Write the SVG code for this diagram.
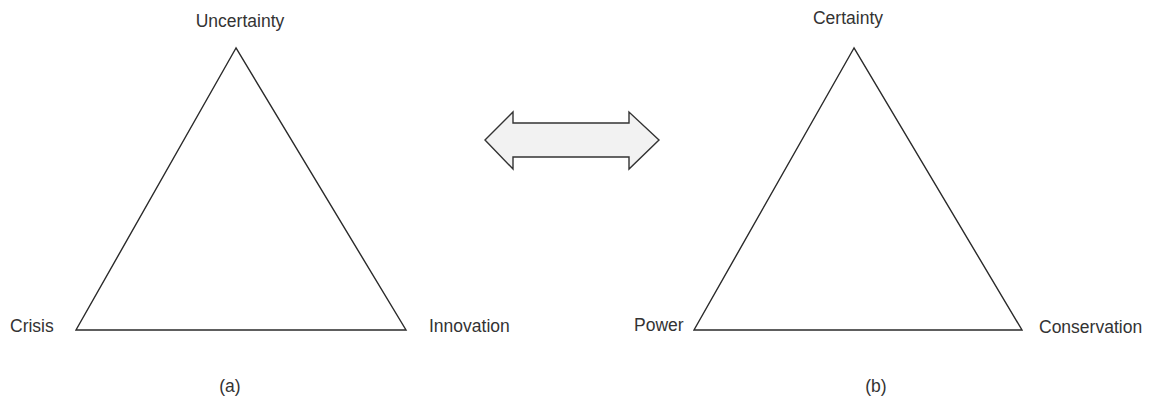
<svg xmlns="http://www.w3.org/2000/svg" width="1154" height="402" viewBox="0 0 1154 402">
<style>
text{font-family:"Liberation Sans",Arial,sans-serif;font-size:17.5px;fill:#333}
.tri{fill:none;stroke:#2a2a2a;stroke-width:1.4;stroke-linejoin:miter}
.arr{fill:#f2f2f2;stroke:#333;stroke-width:1.4}
</style>
<rect width="1154" height="402" fill="#fff"/>
<g id="triangle-a">
<polygon class="tri" points="236,48 76,330 406,330"/>
<text x="240" y="27" text-anchor="middle">Uncertainty</text>
<text x="10" y="332">Crisis</text>
<text x="429" y="332">Innovation</text>
<text x="230" y="392" text-anchor="middle">(a)</text>
</g>
<g id="triangle-b">
<polygon class="tri" points="854,48 694,330 1022,330"/>
<text x="848" y="24" text-anchor="middle">Certainty</text>
<text x="634" y="331">Power</text>
<text x="1039" y="333">Conservation</text>
<text x="876" y="392" text-anchor="middle">(b)</text>
</g>
<g id="connectors">
<polygon class="arr" points="485,140 513,112 513,123 629,123 629,112 659,140 629,169 629,157 513,157 513,169"/>
</g>
</svg>
